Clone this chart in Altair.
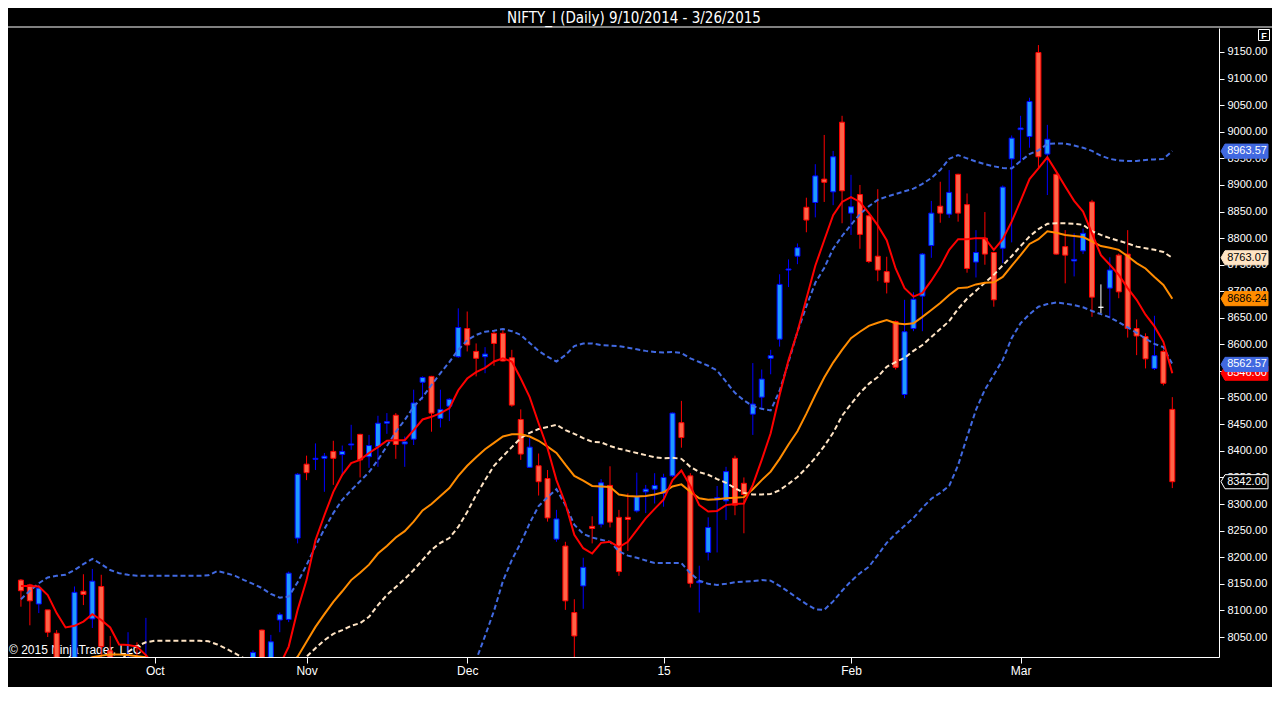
import altair as alt
import pandas as pd

TITLE = "NIFTY_I (Daily)  9/10/2014 - 3/26/2015"
COPYRIGHT = "\u00a9 2015 NinjaTrader, LLC"

# ---------------- daily OHLC (bar index 0 = 9/10/2014) ----------------
opens = [8157, 8148, 8112, 8101, 8057, 7990, 7980, 8136, 8084, 8145,
         8024, 7945, 7960, 7990, 7960, 7990, 7950, 7900, 7870, 7950,
         7860, 7880, 7840, 7760, 7810, 7910, 7950, 8063, 7995, 8082,
         8083, 8236, 8375, 8384, 8386, 8399, 8393, 8411, 8431, 8389,
         8408, 8452, 8467, 8413, 8422, 8529, 8540, 8461, 8484, 8577,
         8630, 8587, 8577, 8621, 8621, 8575, 8459, 8369, 8372, 8348,
         8234, 8221, 8096, 8146, 8258, 8262, 8335, 8275, 8275, 8287,
         8323, 8328, 8320, 8353, 8453, 8353, 8152, 8209, 8308, 8306,
         8386, 8339, 8469, 8501, 8574, 8610, 8740, 8766, 8858, 8867,
         8911, 8887, 9018, 8847, 8882, 8842, 8766, 8737, 8643, 8506,
         8630, 8691, 8786, 8860, 8845, 8920, 8863, 8755, 8800, 8773,
         8781, 8949, 9004, 8991, 9149, 8958, 8920, 8784, 8757, 8776,
         8868, 8670, 8706, 8768, 8770, 8630, 8615, 8555, 8587, 8478]

highs = [8159, 8150, 8148, 8101, 8063, 8005, 8145, 8168, 8178, 8167,
         8052, 8005, 8059, 8040, 8086, 8005, 7985, 7920, 7990, 7960,
         7900, 7910, 7860, 7820, 7910, 7950, 8025, 8064, 8054, 8096,
         8173, 8358, 8391, 8414, 8396, 8419, 8410, 8449, 8432, 8430,
         8466, 8471, 8471, 8427, 8515, 8540, 8541, 8515, 8499, 8668,
         8662, 8602, 8595, 8627, 8627, 8590, 8478, 8424, 8395, 8364,
         8289, 8229, 8121, 8199, 8277, 8347, 8371, 8289, 8320, 8359,
         8336, 8358, 8357, 8472, 8494, 8358, 8184, 8275, 8334, 8370,
         8391, 8350, 8565, 8553, 8590, 8732, 8760, 8790, 8876, 8939,
         8994, 8964, 9030, 8919, 8900, 8843, 8892, 8765, 8645, 8684,
         8698, 8772, 8870, 8906, 8928, 8921, 8884, 8815, 8849, 8774,
         8899, 8993, 9030, 9064, 9163, 9013, 8921, 8815, 8809, 8818,
         8872, 8713, 8764, 8771, 8815, 8647, 8621, 8654, 8590, 8501]

lows = [8107, 8072, 8095, 8050, 7980, 7950, 7970, 8110, 8067, 8000,
        7930, 7890, 7935, 7950, 7940, 7930, 7880, 7840, 7860, 7850,
        7840, 7850, 7730, 7740, 7800, 7890, 7940, 7985, 7985, 8059,
        8078, 8226, 8345, 8364, 8323, 8336, 8353, 8402, 8350, 8368,
        8370, 8432, 8385, 8370, 8411, 8496, 8436, 8444, 8456, 8575,
        8587, 8540, 8546, 8560, 8568, 8483, 8383, 8368, 8316, 8267,
        8229, 8101, 7995, 8103, 8226, 8256, 8256, 8165, 8212, 8284,
        8283, 8301, 8295, 8351, 8406, 8143, 8096, 8194, 8209, 8270,
        8279, 8245, 8430, 8477, 8544, 8596, 8708, 8751, 8811, 8839,
        8868, 8862, 8828, 8806, 8780, 8753, 8719, 8696, 8553, 8499,
        8625, 8625, 8763, 8829, 8838, 8831, 8735, 8726, 8750, 8671,
        8753, 8792, 8944, 8970, 8931, 8881, 8769, 8715, 8728, 8770,
        8652, 8659, 8649, 8687, 8613, 8580, 8555, 8552, 8523, 8330]

closes = [8137, 8118, 8142, 8059, 7995, 7975, 8134, 8130, 8155, 8032,
          7950, 7975, 7995, 7965, 7990, 7950, 7900, 7860, 7975, 7870,
          7880, 7865, 7760, 7800, 7900, 7935, 8021, 7995, 8041, 8092,
          8170, 8356, 8359, 8386, 8390, 8386, 8399, 8413, 8383, 8410,
          8452, 8455, 8412, 8417, 8490, 8538, 8471, 8478, 8497, 8632,
          8599, 8574, 8582, 8602, 8569, 8486, 8394, 8407, 8342, 8274,
          8272, 8118, 8052, 8181, 8254, 8340, 8266, 8173, 8271, 8314,
          8328, 8335, 8350, 8471, 8425, 8151, 8155, 8256, 8312, 8361,
          8298, 8318, 8488, 8535, 8579, 8713, 8742, 8782, 8834, 8917,
          8905, 8953, 8889, 8859, 8807, 8756, 8740, 8717, 8557, 8624,
          8685, 8770, 8847, 8847, 8886, 8847, 8743, 8773, 8770, 8684,
          8896, 8988, 9007, 9057, 8953, 8986, 8770, 8768, 8760, 8809,
          8689, 8670, 8740, 8699, 8630, 8616, 8573, 8579, 8527, 8342]

# ---------------- indicator lines (bar index, value) ----------------
fast_idx = list(range(0, 16)) + list(range(29, 130))
fast_val = [8146, 8146, 8145, 8129, 8095, 8068, 8071, 8079, 8093, 8082,
            8068, 8036, 8035, 8032, 8016, 7995,
            7997, 8032, 8101, 8157, 8232, 8279, 8323, 8355, 8377, 8383,
            8396, 8407, 8419, 8420, 8420, 8439, 8459, 8464, 8471, 8480,
            8514, 8536, 8548, 8556, 8568, 8574, 8568, 8536, 8501, 8452,
            8405, 8345, 8301, 8242, 8217, 8207, 8227, 8229, 8219, 8229,
            8251, 8273, 8291, 8308, 8345, 8363, 8334, 8298, 8286, 8287,
            8298, 8300, 8301, 8336, 8383, 8433, 8505, 8571, 8624, 8686,
            8748, 8796, 8843, 8868, 8877, 8868, 8847, 8824, 8796, 8743,
            8706, 8690, 8697, 8720, 8746, 8778, 8798, 8798, 8800, 8800,
            8778, 8798, 8831, 8870, 8911, 8931, 8952, 8925, 8897, 8870,
            8850, 8809, 8768, 8750, 8731, 8706, 8684, 8656, 8634, 8605,
            8546]

slow_idx = list(range(6, 17)) + list(range(30, 130))
slow_val = [7998, 8006, 8012, 8015, 8017, 8017, 8016, 8014, 8012, 8006, 7998,
            7995, 8013, 8041, 8069, 8093, 8116, 8136, 8157, 8171, 8186,
            8207, 8221, 8237, 8249, 8267, 8288, 8300, 8315, 8330, 8353,
            8372, 8388, 8403, 8415, 8427, 8431, 8431, 8427, 8419, 8408,
            8396, 8374, 8353, 8344, 8334, 8333, 8332, 8318, 8315, 8314,
            8315, 8318, 8322, 8333, 8337, 8323, 8311, 8308, 8309, 8311,
            8312, 8313, 8328, 8345, 8361, 8385, 8412, 8437, 8470, 8505,
            8538, 8566, 8590, 8612, 8624, 8635, 8641, 8646, 8640, 8638,
            8640, 8652, 8665, 8678, 8693, 8706, 8707, 8713, 8716, 8717,
            8727, 8748, 8768, 8789, 8798, 8813, 8810, 8806, 8804, 8802,
            8794, 8785, 8782, 8778, 8766, 8753, 8743, 8727, 8712, 8686]

mid_idx = list(range(10, 27)) + list(range(31, 130))
mid_val = [7995, 8000, 8022, 8033, 8040, 8043, 8043, 8043, 8043, 8043,
           8043, 8042, 8036, 8028, 8019, 8010, 7998,
           7995, 8013, 8029, 8044, 8056, 8063, 8071, 8076, 8088,
           8110, 8129, 8144, 8159, 8176, 8195, 8214, 8227, 8236, 8257,
           8285, 8317, 8345, 8372, 8390, 8407, 8424, 8434, 8441, 8445,
           8449, 8439, 8432, 8424, 8417, 8416, 8409, 8404, 8400, 8396,
           8392, 8388, 8386, 8387, 8385, 8370, 8360, 8355, 8347, 8340,
           8330, 8321, 8318, 8318, 8319, 8326, 8338, 8351, 8368, 8387,
           8409, 8434, 8466, 8488, 8509, 8526, 8539, 8558, 8567, 8575,
           8588, 8599, 8614, 8629, 8644, 8667, 8686, 8701, 8716, 8731,
           8749, 8766, 8785, 8803, 8817, 8827, 8828, 8828, 8827, 8825,
           8813, 8806, 8800, 8795, 8790, 8784, 8781, 8778, 8774, 8763]

upper_idx = list(range(0, 130))
upper_val = [8121, 8137, 8151, 8162, 8165, 8167, 8176, 8187, 8197, 8187,
             8176, 8170, 8167, 8165, 8165, 8165, 8165, 8165, 8165, 8165,
             8165, 8166, 8174, 8170, 8165, 8157, 8150, 8142, 8131, 8124,
             8126, 8153, 8185, 8221, 8253, 8283, 8308, 8326, 8343, 8360,
             8383, 8409, 8436, 8458, 8483, 8501, 8524, 8546, 8567, 8590,
             8608, 8618, 8624, 8626, 8629, 8625, 8618, 8603, 8588, 8577,
             8568, 8580, 8597, 8602, 8602, 8599, 8598, 8597, 8594, 8591,
             8588, 8586, 8585, 8586, 8584, 8574, 8567, 8560, 8551, 8530,
             8509, 8495, 8484, 8479, 8476, 8513, 8567, 8624, 8672, 8716,
             8744, 8780, 8804, 8825, 8845, 8860, 8872, 8878, 8883, 8888,
             8893, 8902, 8913, 8928, 8949, 8956, 8950, 8944, 8939, 8935,
             8932, 8931, 8945, 8958, 8965, 8977, 8978, 8978, 8974, 8970,
             8964, 8955, 8949, 8946, 8945, 8945, 8947, 8948, 8949, 8964]

lower_idx = list(range(50, 130))
lower_val = [7960, 8007, 8052, 8099, 8155, 8195, 8227, 8264, 8296, 8313,
             8328, 8298, 8261, 8244, 8237, 8233, 8229, 8211, 8203, 8199,
             8194, 8189, 8189, 8189, 8189, 8170, 8156, 8150, 8148, 8150,
             8153, 8154, 8155, 8157, 8156, 8146, 8135, 8123, 8112, 8102,
             8101, 8117, 8137, 8155, 8170, 8182, 8204, 8227, 8244, 8259,
             8274, 8293, 8310, 8321, 8334, 8373, 8426, 8477, 8515, 8543,
             8571, 8612, 8640, 8657, 8671, 8676, 8679, 8677, 8674, 8670,
             8663, 8657, 8651, 8642, 8632, 8622, 8611, 8601, 8595, 8563]

# ---------------- axes ----------------
tick_idx = [15, 32, 50, 72, 93, 112]
tick_lbl = ["Oct", "Nov", "Dec", "15", "Feb", "Mar"]
price_ticks = list(range(8050, 9151, 50))

# last-value tags on the price axis (drawn in this order)
tag_price = [8963.57, 8763.07, 8686.24, 8546.00, 8562.57, 8342.00]
tag_bg = ["#4169e1", "#ffe4c4", "#ff8c00", "#ff0000", "#4169e1", "#000000"]
tag_edge = ["#4169e1", "#ffe4c4", "#ff8c00", "#ff0000", "#4169e1", "#ffffff"]
tag_fg = ["#ffffff", "#000000", "#000000", "#ffffff", "#ffffff", "#ffffff"]

# ---------------- build ----------------
dirs = ["up" if c > o else ("down" if c < o else "flat") for o, c in zip(opens, closes)]
bars = pd.DataFrame({"i": list(range(len(opens))), "open": opens, "high": highs,
                     "low": lows, "close": closes, "dir": dirs})

W, H = 1211, 629
xs = alt.Scale(domain=[-0.889, 133.67], nice=False, zero=False)
ys = alt.Scale(domain=[8012.4, 9195.1], nice=False, zero=False)

expr = "''"
for v, l in zip(reversed(tick_idx), reversed(tick_lbl)):
    expr = f"datum.value == {v} ? '{l}' : ({expr})"

FONT = "Liberation Sans, Arial, sans-serif"
xaxis = alt.Axis(title=None, values=tick_idx, labelExpr=expr, grid=False,
                 domainColor="white", tickColor="white", tickSize=6,
                 labelColor="white", labelFontSize=12, labelFont=FONT,
                 labelPadding=2, labelFlush=False, labelOverlap=False)
yaxis = alt.Axis(title=None, orient="right", values=price_ticks, format=".2f",
                 grid=False, domainColor="white", tickColor="white", tickSize=5,
                 labelColor="white", labelFontSize=11, labelFont=FONT,
                 labelPadding=3, labelOverlap=False)


def X():
    return alt.X("i:Q", scale=xs, axis=xaxis)


def Y(f):
    return alt.Y(f"{f}:Q", scale=ys, axis=yaxis)


dir_dom = ["up", "down", "flat"]
edge_cols = ["#0000ff", "#ff0000", "#ffffff"]
body_cols = ["#1e9bff", "#ff6347", "#ffffff"]

one = pd.DataFrame({"t": [0]})

copyright_layer = alt.Chart(one).mark_text(
    align="left", baseline="alphabetic", fontSize=12, font=FONT, color="white"
).encode(x=alt.value(1), y=alt.value(626), text=alt.value(COPYRIGHT))

wicks = alt.Chart(bars).mark_rule(clip=True, strokeWidth=1).encode(
    x=X(), y=Y("low"), y2="high:Q",
    color=alt.Color("dir:N", scale=alt.Scale(domain=dir_dom, range=edge_cols), legend=None))

bodies = alt.Chart(bars).mark_bar(clip=True, size=5, strokeWidth=1).encode(
    x=X(), y=Y("open"), y2="close:Q",
    fill=alt.Fill("dir:N", scale=alt.Scale(domain=dir_dom, range=body_cols), legend=None),
    stroke=alt.Stroke("dir:N", scale=alt.Scale(domain=dir_dom, range=edge_cols), legend=None))


def line_layer(xv, vals, color, dash=None):
    df = pd.DataFrame({"i": xv, "v": vals})
    kw = dict(clip=True, color=color, strokeWidth=2)
    if dash:
        kw["strokeDash"] = dash
    return alt.Chart(df).mark_line(**kw).encode(x=X(), y=Y("v"))


layers = [copyright_layer, wicks, bodies,
          line_layer(upper_idx, upper_val, "#4169e1", [5, 3]),
          line_layer(lower_idx, lower_val, "#4169e1", [5, 3]),
          line_layer(mid_idx, mid_val, "#ffe4c4", [5, 3]),
          line_layer(slow_idx, slow_val, "#ff8c00"),
          line_layer(fast_idx, fast_val, "#ff0000")]

TAG_PATH = "M -1 0 L -0.83 -0.3 L 1 -0.3 L 1 0.3 L -0.83 0.3 Z"
for p, bg, ed, fg in zip(tag_price, tag_bg, tag_edge, tag_fg):
    tdf = pd.DataFrame({"p": [p], "lbl": [f"{p:.2f}"]})
    layers.append(alt.Chart(tdf).mark_point(
        shape=TAG_PATH, size=2209, filled=True, fill=bg, stroke=ed,
        strokeWidth=1, opacity=1).encode(x=alt.value(1236.5), y=Y("p")))
    layers.append(alt.Chart(tdf).mark_text(
        align="center", baseline="middle", fontSize=11, font=FONT, color=fg
    ).encode(x=alt.value(1239), y=Y("p"), text="lbl:N"))

title_layer = alt.Chart(one).mark_text(
    align="center", baseline="middle", fontSize=15,
    font="Liberation Sans Narrow, Arial Narrow, DejaVu Sans Condensed, sans-serif",
    color="white").encode(x=alt.value(626), y=alt.value(-10), text=alt.value(TITLE))

top_rule = alt.Chart(one).mark_rule(color="white", strokeWidth=1).encode(
    x=alt.value(0), x2=alt.value(1264), y=alt.value(-1))

f_box = alt.Chart(one).mark_point(shape="square", size=121, filled=False,
                                  color="white", strokeWidth=1, opacity=1).encode(
    x=alt.value(1256), y=alt.value(7))
f_txt = alt.Chart(one).mark_text(fontSize=9, fontWeight="bold", font=FONT,
                                 color="white", align="center", baseline="middle").encode(
    x=alt.value(1256), y=alt.value(7.5), text=alt.value("F"))

layers += [title_layer, top_rule, f_box, f_txt]

chart = alt.layer(*layers).properties(
    width=W, height=H,
    padding={"left": 0, "top": 20, "right": 53, "bottom": 30},
    autosize=alt.AutoSizeParams(type="none"),
    background="black",
).configure_view(stroke=None)

chart.save("out.html", embed_options={"renderer": "svg", "actions": False})
